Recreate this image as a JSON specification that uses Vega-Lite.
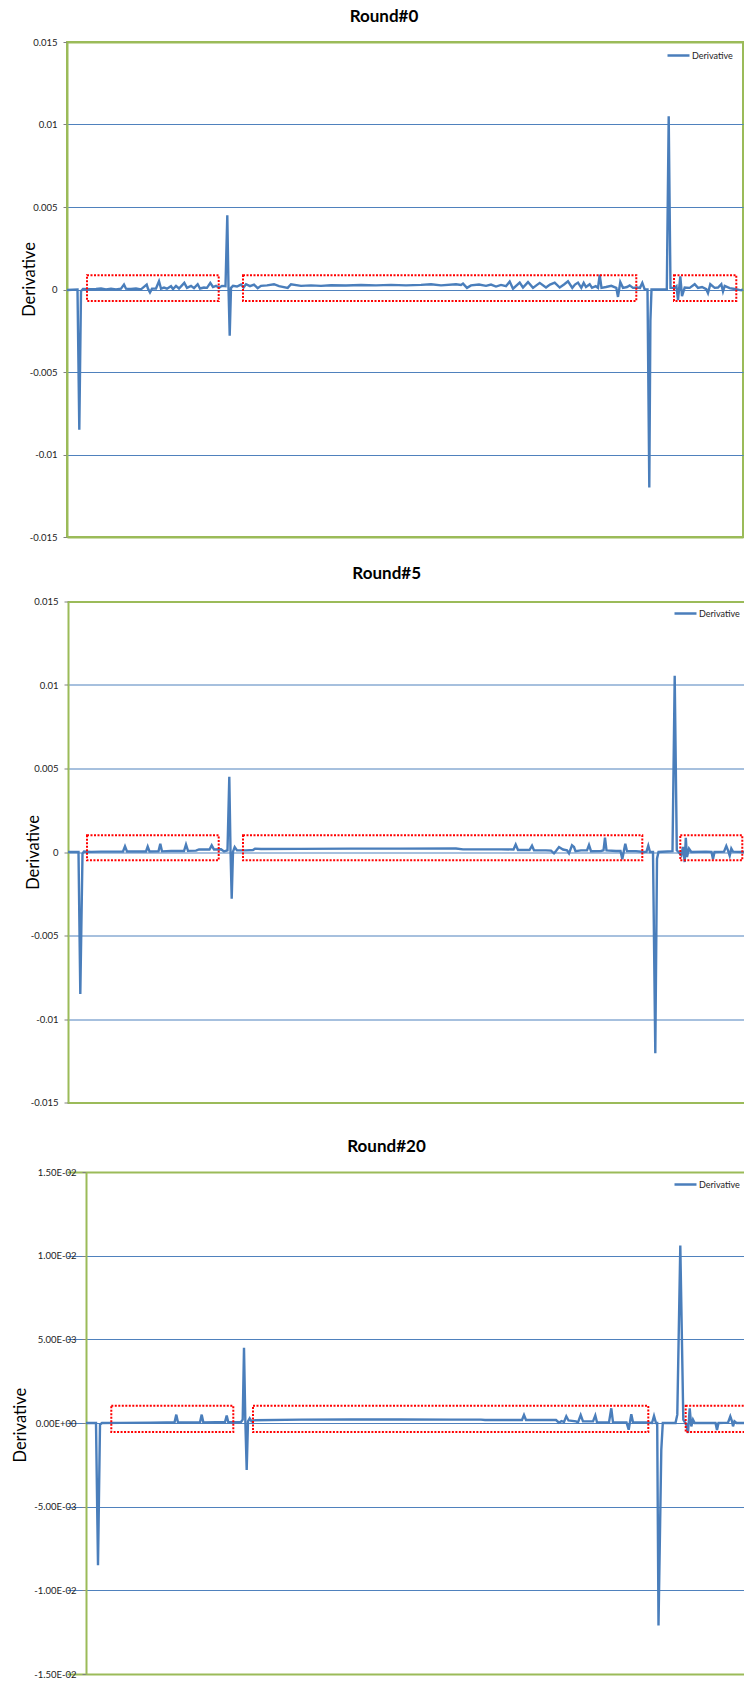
{
  "$schema": "https://vega.github.io/schema/vega-lite/v6.json",
  "background": "white",
  "padding": {"top": 6, "left": 0, "right": 0, "bottom": 0},
  "config": {"font": "Lato", "legend": {"title": null}},
  "datasets": {
    "r0": [
      {"t":0,"v":-0.00003},{"t":10.5,"v":0},{"t":12.3,"v":-0.0085},{"t":14,"v":-0.0001},{"t":16,"v":0.00003},
      {"t":24,"v":0.00002},{"t":29,"v":0.00003},{"t":34,"v":0.00006},{"t":39,"v":0.00001},{"t":44,"v":0.00005},
      {"t":49,"v":0.00001},{"t":54,"v":0.00005},{"t":57,"v":0.0003},{"t":59,"v":0.00005},{"t":64,"v":0.00003},
      {"t":69,"v":0.00006},{"t":74,"v":0.00001},{"t":79.7,"v":0.0003},{"t":81,"v":0.00005},{"t":83,"v":-0.00018},
      {"t":85,"v":0.00005},{"t":89,"v":0.00006},{"t":92,"v":0.0005},{"t":94,"v":0.00005},{"t":97,"v":0.00012},
      {"t":100,"v":0.00005},{"t":104,"v":0.0002},{"t":106,"v":0.00003},{"t":109,"v":0.00022},{"t":112,"v":0.00006},
      {"t":117.3,"v":0.0004},{"t":120,"v":0.0001},{"t":124,"v":0.00022},{"t":127,"v":0.00008},{"t":130.7,"v":0.00032},
      {"t":133,"v":0.00006},{"t":137,"v":0.00012},{"t":140,"v":0.0001},{"t":143.3,"v":0.0004},{"t":146,"v":0.00015},
      {"t":149,"v":0.00022},{"t":152,"v":0.0001},{"t":155,"v":0.00022},{"t":158.5,"v":0.0002},{"t":160.3,"v":0.0045},
      {"t":161.5,"v":0.0001},{"t":162.7,"v":-0.0028},{"t":164,"v":0.0001},{"t":166,"v":0.00022},{"t":170,"v":0.00018},
      {"t":174,"v":0.0003},{"t":176.5,"v":0.00012},{"t":179,"v":0.00032},{"t":183,"v":0.0002},{"t":187,"v":0.0003},
      {"t":190.7,"v":0.00008},{"t":194,"v":0.00022},{"t":200,"v":0.00025},{"t":207,"v":0.00032},{"t":212,"v":0.0002},
      {"t":220.7,"v":0.0001},{"t":224,"v":0.00032},{"t":234,"v":0.00022},{"t":244,"v":0.00025},{"t":254,"v":0.00022},
      {"t":264,"v":0.00026},{"t":279,"v":0.00024},{"t":294,"v":0.00027},{"t":309,"v":0.00025},{"t":324,"v":0.00028},
      {"t":339,"v":0.00025},{"t":354,"v":0.00028},{"t":364,"v":0.00032},{"t":374,"v":0.00025},{"t":389,"v":0.00032},
      {"t":394,"v":0.00028},{"t":396,"v":0.00036},{"t":400,"v":0.0001},{"t":404,"v":0.00025},{"t":412,"v":0.0003},
      {"t":419,"v":0.00022},{"t":424,"v":0.0003},{"t":429,"v":0.00018},{"t":434,"v":0.00028},{"t":439,"v":0.0002},
      {"t":442.7,"v":0.00048},{"t":446,"v":0.00005},{"t":452.7,"v":0.00042},{"t":456,"v":0.00012},{"t":461,"v":0.00045},
      {"t":466,"v":0.0001},{"t":472.7,"v":0.0004},{"t":479,"v":0.00012},{"t":483,"v":0.0003},{"t":487.7,"v":0.00042},
      {"t":492.7,"v":0.00012},{"t":497,"v":0.0003},{"t":501,"v":0.0005},{"t":505.3,"v":0.0001},{"t":508,"v":0.0003},
      {"t":511,"v":0.00042},{"t":514.3,"v":0.0001},{"t":516.7,"v":0.0004},{"t":519,"v":0.00015},{"t":522.7,"v":0.00032},
      {"t":525,"v":0.0001},{"t":528.7,"v":0.0002},{"t":531,"v":0.0001},{"t":532.7,"v":0.0009},{"t":534.5,"v":0.0001},
      {"t":539,"v":0.00015},{"t":544.3,"v":0.00022},{"t":549.3,"v":0.0001},{"t":551,"v":-0.00045},{"t":553.3,"v":0.00045},
      {"t":556,"v":0.0001},{"t":560,"v":0.00015},{"t":562.7,"v":0.00025},{"t":566,"v":0.0001},{"t":570,"v":0.00012},
      {"t":573,"v":0.0001},{"t":575.3,"v":0.0004},{"t":577.7,"v":0},{"t":580.5,"v":0},{"t":582.3,"v":-0.012},
      {"t":583.4,"v":-0.0019},{"t":584.5,"v":0},{"t":599.8,"v":0},{"t":601.7,"v":0.0105},{"t":603.5,"v":0.0001},
      {"t":607.7,"v":0.0001},{"t":609.5,"v":0.0002},{"t":611,"v":-0.00065},{"t":613.3,"v":0.0008},{"t":615,"v":-0.0004},
      {"t":617.7,"v":0.00012},{"t":622.7,"v":0.0001},{"t":627.7,"v":0.00032},{"t":631,"v":0.0001},{"t":635,"v":0.00015},
      {"t":639.3,"v":0.00002},{"t":641,"v":-0.00022},{"t":643.3,"v":0.00032},{"t":647.7,"v":0.0001},{"t":651,"v":0.00012},
      {"t":654.3,"v":0.00032},{"t":656,"v":-0.00012},{"t":657.7,"v":0.00022},{"t":662.7,"v":0.00008},{"t":667.7,"v":0.00003},
      {"t":674.3,"v":-0.00005},{"t":676,"v":0.00002}
    ],
    "b0": [
      {"t":20,"t2":151.7,"v":0.00087,"v2":-0.0007},
      {"t":176,"t2":569.3,"v":0.00087,"v2":-0.0007},
      {"t":607,"t2":669.3,"v":0.00087,"v2":-0.0007}
    ],
    "r5": [
      {"t":0,"v":0},{"t":10.5,"v":0},{"t":12.3,"v":-0.0085},{"t":14.5,"v":-0.0001},{"t":16,"v":0.00003},
      {"t":23,"v":0.00001},{"t":33,"v":0.00002},{"t":43,"v":0.00002},{"t":55,"v":0.00003},{"t":57,"v":0.00034},
      {"t":59,"v":0.00003},{"t":68,"v":0.00003},{"t":78,"v":0.00003},{"t":79.7,"v":0.00032},{"t":81.5,"v":0.00003},
      {"t":90.5,"v":0.00004},{"t":92.3,"v":0.0005},{"t":94,"v":0.00004},{"t":103,"v":0.00006},{"t":116,"v":0.00006},
      {"t":118,"v":0.00045},{"t":120,"v":0.00007},{"t":128,"v":0.00008},{"t":131,"v":0.00015},{"t":141.5,"v":0.00015},
      {"t":143.7,"v":0.0004},{"t":146,"v":0.00015},{"t":153,"v":0.00016},{"t":156,"v":0.00003},{"t":159.5,"v":0.0001},
      {"t":161.3,"v":0.0045},{"t":162.5,"v":0.0001},{"t":163.7,"v":-0.0028},{"t":165,"v":0.00002},{"t":166.7,"v":0.0003},
      {"t":169,"v":0.0001},{"t":178,"v":0.0001},{"t":185,"v":0.00012},{"t":187,"v":0.0002},{"t":193,"v":0.00018},
      {"t":233,"v":0.00019},{"t":283,"v":0.0002},{"t":333,"v":0.0002},{"t":388,"v":0.00021},{"t":395,"v":0.00016},
      {"t":433,"v":0.00016},{"t":445.5,"v":0.00015},{"t":447.7,"v":0.00045},{"t":450,"v":0.00012},{"t":461.5,"v":0.00012},
      {"t":464,"v":0.00038},{"t":466,"v":0.0001},{"t":478,"v":0.0001},{"t":483,"v":0.00008},{"t":486,"v":-0.00008},
      {"t":488,"v":0.00006},{"t":491,"v":0.0003},{"t":495,"v":0.00015},{"t":499,"v":0.0001},{"t":501,"v":-0.00008},
      {"t":504,"v":0.0004},{"t":506,"v":0.0003},{"t":507.5,"v":0.00005},{"t":513,"v":0.0001},{"t":519,"v":0.0001},
      {"t":521,"v":0.00042},{"t":523,"v":0.00005},{"t":533,"v":0.00006},{"t":535.5,"v":0.0001},{"t":537,"v":0.00086},
      {"t":538.5,"v":0.0001},{"t":548,"v":0.00006},{"t":552.5,"v":0.00006},{"t":554.3,"v":-0.00044},{"t":555.8,"v":0.00005},
      {"t":557.3,"v":0.0005},{"t":559,"v":0.00005},{"t":568,"v":0.00005},{"t":576,"v":0},{"t":578.5,"v":0.00002},
      {"t":580.3,"v":0.00038},{"t":582,"v":0},{"t":585,"v":0},{"t":587.3,"v":-0.01205},{"t":589,"v":-0.0004},
      {"t":590.5,"v":0},{"t":604.5,"v":0.00005},{"t":606.7,"v":0.01055},{"t":608.8,"v":0.0001},{"t":610.5,"v":0},
      {"t":613.3,"v":-0.0002},{"t":615,"v":0.0003},{"t":616.7,"v":-0.0006},{"t":617.8,"v":0.00085},{"t":619,"v":-0.0003},
      {"t":621,"v":0.0002},{"t":623.3,"v":0},{"t":638,"v":0.00002},{"t":643.5,"v":0},{"t":645,"v":-0.00044},
      {"t":646.5,"v":0},{"t":656,"v":0.00002},{"t":658.3,"v":0.00036},{"t":660,"v":0.0001},{"t":661.7,"v":-0.00022},
      {"t":663.3,"v":0.0002},{"t":665,"v":0.00002},{"t":677,"v":0}
    ],
    "b5": [
      {"t":19,"t2":150.7,"v":0.001,"v2":-0.0005},
      {"t":175,"t2":574.3,"v":0.001,"v2":-0.0005},
      {"t":612.3,"t2":674.3,"v":0.001,"v2":-0.0005}
    ],
    "r20": [
      {"t":0,"v":0},{"t":10,"v":0},{"t":12,"v":-0.0085},{"t":14,"v":-0.0001},{"t":16,"v":0},
      {"t":35,"v":0.00001},{"t":65,"v":0.00002},{"t":80,"v":0.00003},{"t":88.5,"v":0.00003},{"t":90.3,"v":0.0005},
      {"t":92,"v":0.00003},{"t":114,"v":0.00004},{"t":115.7,"v":0.0005},{"t":117.3,"v":0.00004},{"t":130,"v":0.00005},
      {"t":139,"v":0.00005},{"t":140.7,"v":0.00045},{"t":142.3,"v":0.00005},{"t":155,"v":0.00006},{"t":156.7,"v":0.0002},
      {"t":158,"v":0.0045},{"t":159.3,"v":0.0002},{"t":160.7,"v":-0.0028},{"t":162,"v":0.0001},{"t":163.7,"v":0.00028},
      {"t":165.5,"v":0.0001},{"t":168,"v":0.00016},{"t":215,"v":0.0002},{"t":265,"v":0.00021},{"t":315,"v":0.00021},
      {"t":365,"v":0.0002},{"t":395,"v":0.0002},{"t":399,"v":0.00018},{"t":436,"v":0.00018},{"t":438,"v":0.00048},
      {"t":440,"v":0.00018},{"t":470,"v":0.00018},{"t":473,"v":0.00002},{"t":475.5,"v":0.00012},{"t":478,"v":0.00006},
      {"t":480.3,"v":0.0004},{"t":482.5,"v":0.00015},{"t":490,"v":0.0001},{"t":492,"v":0.00004},{"t":494.7,"v":0.00048},
      {"t":497,"v":0.0001},{"t":507,"v":0.0001},{"t":509.3,"v":0.00045},{"t":511,"v":0.00004},{"t":523,"v":0.00004},
      {"t":525.3,"v":0.00088},{"t":527,"v":0.00004},{"t":540.5,"v":0.00004},{"t":542.7,"v":-0.0004},{"t":543.8,"v":0},
      {"t":545.3,"v":0.00052},{"t":547,"v":0.00004},{"t":560,"v":0.00003},{"t":566,"v":0},{"t":568,"v":0.00042},
      {"t":570,"v":0},{"t":571.2,"v":0},{"t":572.5,"v":-0.0121},{"t":575.3,"v":-0.0016},{"t":576.8,"v":0},
      {"t":589.5,"v":0},{"t":591.3,"v":0.0005},{"t":594.3,"v":0.0106},{"t":597.3,"v":0.0002},{"t":600.3,"v":-0.0001},
      {"t":602,"v":-0.0006},{"t":603.7,"v":0.00088},{"t":605.3,"v":-0.0002},{"t":607,"v":0.0002},{"t":608.7,"v":0},
      {"t":620,"v":0.00001},{"t":629.5,"v":0},{"t":631,"v":-0.00042},{"t":632.5,"v":0},{"t":642,"v":0.00002},
      {"t":644.3,"v":0.0004},{"t":646,"v":0.0001},{"t":647,"v":-0.0002},{"t":648.5,"v":0.0001},{"t":650.5,"v":0},
      {"t":659,"v":0}
    ],
    "b20": [
      {"t":25.3,"t2":147.3,"v":0.00103,"v2":-0.00054},
      {"t":167,"t2":562.3,"v":0.00103,"v2":-0.00054},
      {"t":599.7,"t2":672,"v":0.00103,"v2":-0.00054}
    ]
  },
  "concat": [
    {
      "width": 676, "height": 495,
      "view": {"stroke": "#9bbb59", "strokeWidth": 2},
      "title": {"text": "Round#0", "font": "Lato", "fontSize": 17, "fontWeight": "bold", "color": "#000000", "anchor": "middle", "frame": "group", "dx": -21, "baseline": "alphabetic", "offset": -1.5},
      "encoding": {
        "x": {"field": "t", "type": "quantitative", "scale": {"domain": [0, 676], "nice": false, "zero": false},
              "axis": {"labels": false, "ticks": false, "domain": false, "grid": false, "title": null, "minExtent": 7, "maxExtent": 7}},
        "y": {"field": "v", "type": "quantitative", "scale": {"domain": [-0.015, 0.015], "nice": false, "zero": false},
              "axis": {"values": [-0.015, -0.01, -0.005, 0, 0.005, 0.01, 0.015], "labelExpr": "'' + datum.value",
                       "labelFont": "Lato", "labelFontSize": 9.5, "labelColor": "#222222", "labelPadding": 6,
                       "tickSize": 4, "tickColor": "#808080", "tickWidth": 1,
                       "domainColor": "#9bbb59", "domainWidth": 2,
                       "gridColor": {"condition": {"test": "abs(datum.value) > 0.014", "value": "#9bbb59"}, "value": "#4f81bd"},
                       "gridWidth": {"condition": {"test": "abs(datum.value) > 0.014", "value": 2}, "value": 1},
                       "title": "Derivative", "titleFont": "Lato", "titleFontSize": 16.5, "titleFontWeight": "normal", "titleColor": "#000000",
                       "titleX": -32.5, "titleY": 237, "titleAngle": 270, "titleBaseline": "alphabetic", "titleAlign": "center",
                       "minExtent": 66, "maxExtent": 66}}
      },
      "layer": [
        {"data": {"name": "r0"}, "mark": {"type": "line", "strokeWidth": 2.4, "clip": true},
         "encoding": {"color": {"datum": "Derivative", "type": "nominal", "scale": {"range": ["#4a7ebb"]},
           "legend": {"orient": "none", "legendX": 599, "legendY": 1, "title": null, "symbolType": "stroke", "symbolSize": 484, "symbolStrokeWidth": 2.5, "labelFont": "Lato", "labelFontSize": 9, "labelColor": "#222222", "labelOffset": 1, "padding": 0}}}},
        {"data": {"name": "b0"}, "mark": {"type": "rect", "filled": false, "stroke": "#ff0000", "strokeWidth": 2, "strokeDash": [2, 1.5], "clip": true},
         "encoding": {"x2": {"field": "t2"}, "y2": {"field": "v2"}}}
      ]
    },
    {
      "width": 678, "height": 501,
      "view": {"stroke": null},
      "title": {"text": "Round#5", "font": "Lato", "fontSize": 17, "fontWeight": "bold", "color": "#000000", "anchor": "middle", "frame": "group", "dx": -19.3, "baseline": "alphabetic", "offset": 0.2},
      "encoding": {
        "x": {"field": "t", "type": "quantitative", "scale": {"domain": [-1, 677], "nice": false, "zero": false},
              "axis": {"labels": false, "ticks": false, "domain": false, "grid": false, "title": null, "minExtent": 15, "maxExtent": 15}},
        "y": {"field": "v", "type": "quantitative", "scale": {"domain": [-0.015, 0.015], "nice": false, "zero": false},
              "axis": {"values": [-0.015, -0.01, -0.005, 0, 0.005, 0.01, 0.015], "labelExpr": "'' + datum.value", "offset": -1,
                       "labelFont": "Lato", "labelFontSize": 9.5, "labelColor": "#222222", "labelPadding": 6,
                       "tickSize": 4, "tickColor": "#808080", "tickWidth": 1,
                       "domainColor": "#9bbb59", "domainWidth": 2,
                       "gridColor": {"condition": {"test": "abs(datum.value) > 0.014", "value": "#9bbb59"}, "value": "#4f81bd"},
                       "gridWidth": {"condition": {"test": "abs(datum.value) > 0.014", "value": 2}, "value": 1},
                       "title": "Derivative", "titleFont": "Lato", "titleFontSize": 16.5, "titleFontWeight": "normal", "titleColor": "#000000",
                       "titleX": -29.2, "titleY": 250.5, "titleAngle": 270, "titleBaseline": "alphabetic", "titleAlign": "center",
                       "minExtent": 67, "maxExtent": 67}}
      },
      "layer": [
        {"data": {"name": "r5"}, "mark": {"type": "line", "strokeWidth": 2.4, "clip": true},
         "encoding": {"color": {"datum": "Derivative", "type": "nominal", "scale": {"range": ["#4a7ebb"]},
           "legend": {"orient": "none", "legendX": 606, "legendY": -0.5, "title": null, "symbolType": "stroke", "symbolSize": 484, "symbolStrokeWidth": 2.5, "labelFont": "Lato", "labelFontSize": 9, "labelColor": "#222222", "labelOffset": 1, "padding": 0}}}},
        {"data": {"name": "b5"}, "mark": {"type": "rect", "filled": false, "stroke": "#ff0000", "strokeWidth": 2, "strokeDash": [2, 1.5], "clip": true},
         "encoding": {"x2": {"field": "t2"}, "y2": {"field": "v2"}}}
      ]
    },
    {
      "width": 678, "height": 502,
      "view": {"stroke": null},
      "title": {"text": "Round#20", "font": "Lato", "fontSize": 17, "fontWeight": "bold", "color": "#000000", "anchor": "middle", "frame": "group", "dx": -19.5, "baseline": "alphabetic", "offset": -1.5},
      "encoding": {
        "x": {"field": "t", "type": "quantitative", "scale": {"domain": [-19, 659], "nice": false, "zero": false},
              "axis": {"labels": false, "ticks": false, "domain": false, "grid": false, "title": null, "minExtent": 1, "maxExtent": 1}},
        "y": {"field": "v", "type": "quantitative", "scale": {"domain": [-0.015, 0.015], "nice": false, "zero": false},
              "axis": {"values": [-0.015, -0.01, -0.005, 0, 0.005, 0.01, 0.015], "offset": -19,
                       "labelExpr": "datum.value > 0.012 ? '1.50E-02' : datum.value > 0.008 ? '1.00E-02' : datum.value > 0.003 ? '5.00E-03' : datum.value > -0.003 ? '0.00E+00' : datum.value > -0.008 ? '-5.00E-03' : datum.value > -0.012 ? '-1.00E-02' : '-1.50E-02'",
                       "labelFont": "Lato", "labelFontSize": 9.5, "labelColor": "#222222", "labelPadding": 6,
                       "tickSize": 4, "tickColor": "#808080", "tickWidth": 1,
                       "domainColor": "#9bbb59", "domainWidth": 2,
                       "gridColor": {"condition": {"test": "abs(datum.value) > 0.014", "value": "#9bbb59"}, "value": "#4f81bd"},
                       "gridWidth": {"condition": {"test": "abs(datum.value) > 0.014", "value": 2}, "value": 1},
                       "title": "Derivative", "titleFont": "Lato", "titleFontSize": 16.5, "titleFontWeight": "normal", "titleColor": "#000000",
                       "titleX": -60.5, "titleY": 252.7, "titleAngle": 270, "titleBaseline": "alphabetic", "titleAlign": "center",
                       "minExtent": 85, "maxExtent": 85}}
      },
      "layer": [
        {"data": {"name": "r20"}, "mark": {"type": "line", "strokeWidth": 2.4, "clip": true},
         "encoding": {"color": {"datum": "Derivative", "type": "nominal", "scale": {"range": ["#4a7ebb"]},
           "legend": {"orient": "none", "legendX": 606, "legendY": 0, "title": null, "symbolType": "stroke", "symbolSize": 484, "symbolStrokeWidth": 2.5, "labelFont": "Lato", "labelFontSize": 9, "labelColor": "#222222", "labelOffset": 1, "padding": 0}}}},
        {"data": {"name": "b20"}, "mark": {"type": "rect", "filled": false, "stroke": "#ff0000", "strokeWidth": 2, "strokeDash": [2, 1.5], "clip": true},
         "encoding": {"x2": {"field": "t2"}, "y2": {"field": "v2"}}}
      ]
    }
  ],
  "columns": 1,
  "spacing": 19.5,
  "resolve": {"scale": {"color": "independent", "x": "independent", "y": "independent"}, "legend": {"color": "independent"}}
}
